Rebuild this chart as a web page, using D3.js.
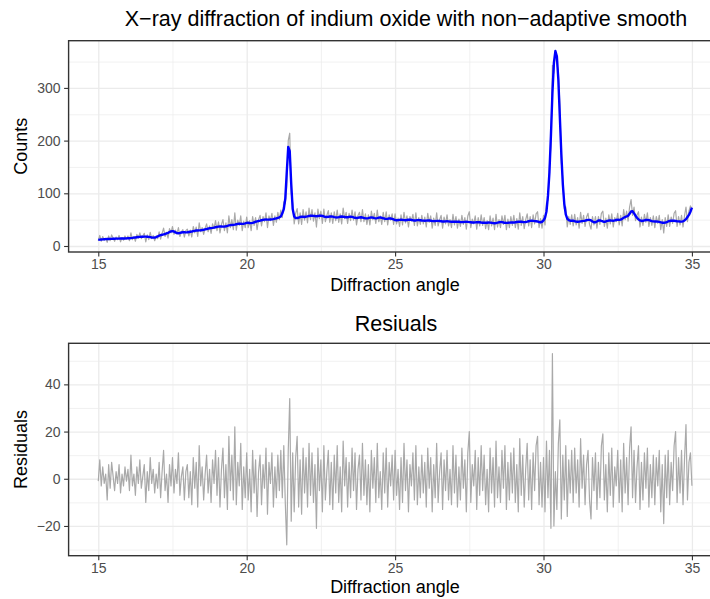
<!DOCTYPE html>
<html lang="en">
<head>
<meta charset="UTF-8" />
<title>X-ray diffraction of indium oxide</title>
<script src="https://cdnjs.cloudflare.com/ajax/libs/d3/7.8.5/d3.min.js"></script>
<style>
  body { margin: 0; background: #fff; }
  svg { display: block; font-family: 'Liberation Sans', Arial, sans-serif; }
  .axis .tick text { fill: #4d4d4d; font-size: 14px; }
  .axis .tick line { stroke: #333; stroke-width: 1.1; }
  .axis path, .grid path { display: none; }
  .grid-major line { stroke: #ebebeb; stroke-width: 1.3; }
  .grid-minor line { stroke: #ebebeb; stroke-width: 0.7; }
  text.title { font-size: 21.5px; fill: #000; }
  text.label { font-size: 18px; fill: #000; }
</style>
</head>
<body>
<svg width="710" height="599"></svg>
<script>
// scan runs 15..35 degrees, one reading every 0.05 degree
const angleStart = 15, angleStep = 0.05;

const counts = [
  10, 20, 9, 18, 11, 15, 7, 19, 10, 21, 15, 9, 17, 12, 20, 8, 16, 11, 19, 13,
  19, 10, 25, 12, 18, 9, 22, 15, 25, 14, 19, 24, 8, 21, 12, 26, 14, 20, 10, 19,
  14, 27, 13, 24, 34, 18, 26, 15, 33, 25, 37, 22, 30, 23, 35, 18, 27, 31, 17, 29,
  32, 19, 30, 17, 37, 25, 36, 18, 44, 27, 35, 22, 34, 42, 27, 38, 24, 42, 33, 48,
  29, 46, 25, 41, 50, 29, 44, 25, 57, 35, 50, 31, 63, 30, 49, 39, 57, 29, 47, 35,
  55, 35, 48, 29, 56, 39, 54, 31, 50, 58, 38, 56, 46, 63, 35, 57, 48, 62, 39, 57,
  45, 64, 50, 68, 54, 84, 80, 112, 200, 214, 100, 81, 42, 62, 71, 42, 63, 41, 69, 49,
  65, 44, 72, 50, 69, 47, 63, 36, 70, 52, 66, 43, 70, 46, 58, 67, 45, 63, 43, 65,
  48, 68, 45, 61, 42, 72, 52, 64, 43, 62, 48, 68, 49, 65, 40, 58, 64, 46, 69, 46,
  61, 41, 59, 40, 66, 50, 62, 43, 68, 46, 57, 41, 64, 46, 65, 40, 59, 49, 61, 41,
  61, 42, 53, 37, 59, 40, 64, 44, 57, 36, 56, 47, 60, 39, 63, 38, 54, 41, 58, 42,
  55, 36, 62, 45, 57, 34, 53, 39, 63, 38, 50, 58, 34, 55, 42, 59, 38, 50, 35, 60,
  40, 56, 34, 51, 37, 58, 41, 54, 32, 57, 65, 35, 51, 42, 57, 32, 54, 38, 59, 39,
  54, 33, 48, 31, 57, 38, 53, 31, 60, 36, 50, 35, 57, 41, 58, 31, 51, 35, 56, 39,
  58, 35, 52, 32, 63, 39, 56, 33, 50, 61, 38, 56, 35, 59, 42, 61, 65, 35, 52, 34,
  58, 40, 82, 87, 152, 189, 343, 328, 371, 347, 330, 270, 158, 128, 71, 74, 36, 56, 41, 59,
  38, 60, 40, 54, 34, 64, 43, 58, 37, 55, 62, 41, 32, 56, 40, 56, 34, 56, 41, 62,
  66, 37, 53, 34, 59, 42, 61, 36, 54, 46, 62, 40, 58, 38, 69, 50, 66, 47, 74, 88,
  58, 74, 48, 59, 65, 36, 55, 39, 60, 45, 63, 37, 54, 39, 57, 35, 56, 43, 58, 31,
  50, 25, 54, 37, 59, 37, 55, 43, 62, 67, 37, 56, 40, 58, 36, 57, 74, 46, 66, 76,
  70
];

const fitted = [
  11.5, 12, 12.3, 12.6, 12.8, 13, 13.2, 13.3, 13.5, 13.6, 13.7, 13.8, 13.9, 14, 14, 14.1, 14.2, 14.2, 14.3, 14.4,
  14.6, 14.8, 15, 15.4, 15.8, 16.2, 16.6, 17, 17.3, 17.5, 17.6, 17.7, 17.8, 17.6, 17.3, 16.8, 16.2, 15.8, 16, 17,
  18.2, 19.5, 20.5, 21.3, 22, 22.8, 23.8, 25, 26.5, 27.8, 28.3, 27.5, 25.8, 24.5, 24.2, 24.8, 25.6, 26, 26, 25.8,
  26, 26.5, 27, 27.5, 28.2, 28.8, 29.3, 29.5, 29.6, 29.8, 30.2, 30.8, 31.5, 32.2, 33, 33.6, 34, 34.3, 34.8, 35.5,
  36.2, 36.8, 37, 37, 36.8, 37, 37.5, 38.2, 39, 39.5, 39.8, 40, 40.5, 41.3, 42, 42.3, 42.2, 42, 42.3, 43,
  43.8, 44, 43.6, 43.4, 44, 45, 46, 46.8, 47.4, 48, 48.8, 49.5, 50, 50.2, 50, 50, 50.3, 50.6, 51, 51.8,
  52.5, 53.5, 54.5, 56, 62, 70, 90, 140, 188, 180, 118, 70, 56, 53, 53, 54, 55, 55.5, 55.5, 55,
  55.7, 56.2, 57, 57.5, 57.6, 57.2, 56.8, 56.5, 56.8, 57.3, 57.6, 57, 56, 55.2, 55, 55.4, 56, 56.2, 55.6, 54.8,
  54.4, 54.2, 54.8, 55.5, 56, 55.6, 55, 54.5, 54.6, 55.2, 55.7, 55.2, 54.3, 53.5, 53.2, 53.6, 54.2, 54.5, 54, 53.2,
  52.5, 52.4, 53, 53.8, 54.2, 53.8, 53, 52.5, 53, 53.8, 54, 53.5, 52.6, 51.8, 51.5, 51.8, 52.3, 52.2, 51.4, 50.3,
  49.3, 48.8, 49, 49.6, 50, 49.6, 49, 48.8, 49.3, 49.9, 50, 49.5, 48.8, 48.4, 48.5, 49, 49.2, 48.8, 48.3, 48.1,
  48, 48.2, 48.6, 48.5, 48, 47.5, 47.2, 47.3, 47.6, 47.7, 47.4, 47, 46.6, 46.5, 46.7, 46.9, 46.7, 46.3, 46, 46,
  46, 46.1, 46.2, 45.9, 45.5, 45.3, 45.4, 45.8, 46, 45.8, 45.4, 45, 44.6, 44.5, 44.8, 45.2, 45.3, 45, 44.5, 44.2,
  44, 44, 44.2, 44.5, 44.4, 44, 43.5, 43.2, 43.5, 44.2, 45, 45.4, 45.2, 44.6, 44, 43.8, 44, 44.4, 44.6, 44.5,
  44.6, 45, 45.6, 46, 46.3, 46.1, 45.6, 45.3, 45.5, 46.2, 47, 47.6, 47.8, 47.6, 47.2, 47, 46.5, 45.5, 45, 46,
  48.6, 53.5, 65.5, 95, 140, 210, 290, 348, 370, 360, 315, 245, 175, 118, 80, 60, 52, 49, 48, 48,
  48, 47, 46.3, 46, 46.2, 46.8, 47.3, 47.6, 48, 48.8, 49.5, 49.6, 48.5, 46.5, 45, 45, 46.5, 48.5, 48.6, 47.5,
  46.5, 46, 46.5, 47.5, 48.3, 48.5, 48.2, 48, 48.5, 49.3, 49.7, 49.5, 50, 51.5, 53.5, 55, 56, 57.5, 61, 65.5,
  66, 62, 57.5, 53.5, 50.5, 48.5, 47.5, 47.8, 48.6, 49.3, 49.6, 49.2, 48.3, 47.3, 46.7, 46.4, 46.5, 46.3, 45.8, 45,
  44.2, 44, 44.4, 45.3, 46.5, 47.5, 48, 48.1, 47.8, 47.4, 47, 46.7, 46.4, 46.2, 46.8, 48.5, 51, 55, 59, 65,
  72.7
];

const residuals = [
  -1, 8, -3, 5, -2, 2, -9, 6, -4, 7, 1, -5, 3, -2, 6, -6, 2, -3, 5, -1,
  4, -5, 10, -3, 2, -7, 5, -2, 8, -4, 1, 6, -10, 3, -5, 9, -2, 4, -6, 2,
  -4, 7, -8, 3, 12, -5, 2, -10, 6, -3, 9, -6, 4, -2, 11, -7, 1, 5, -9, 3,
  6, -8, 3, -11, 9, -4, 7, -12, 14, -3, 5, -9, 2, 10, -6, 4, -10, 8, -2, 12,
  -7, 9, -12, 4, 13, -8, 6, -13, 18, -5, 10, -9, 22, -11, 7, -3, 15, -13, 5, -8,
  11, -9, 4, -14, 12, -6, 8, -16, 3, 10, -11, 6, -4, 13, -15, 7, -2, 11, -12, 5,
  -8, 10, -5, 12, -8, 14, -10, -28, 12, 34, -18, 11, -14, 9, 18, -12, 8, -15, 13, -6,
  9, -12, 15, -7, 11, -10, 6, -21, 13, -5, 8, -14, 14, -9, 3, 12, -11, 7, -13, 10,
  -6, 14, -10, 5, -14, 16, -3, 9, -12, 7, -8, 13, -5, 11, -13, 4, 10, -9, 15, -7,
  8, -11, 6, -14, 12, -4, 9, -10, 15, -8, 3, -13, 11, -6, 13, -12, 7, -3, 10, -9,
  12, -7, 4, -13, 9, -10, 15, -5, 8, -14, 6, -3, 11, -9, 14, -11, 5, -8, 10, -6,
  7, -12, 13, -4, 9, -14, 6, -8, 15, -10, 3, 11, -13, 8, -5, 12, -9, 4, -11, 14,
  -6, 10, -12, 5, -9, 13, -4, 8, -14, 11, 20, -10, 6, -3, 12, -13, 9, -7, 14, -5,
  10, -11, 4, -14, 13, -6, 9, -12, 16, -8, 5, -10, 12, -4, 14, -13, 7, -9, 11, -6,
  13, -10, 6, -14, 17, -7, 10, -12, 4, 15, -9, 8, -13, 11, -5, 14, 18, -11, 7, -12,
  9, -14, 16, -8, 12, -21, 53, -20, 3, -13, 15, 25, -17, 10, -9, 14, -16, 8, -6, 12,
  -10, 13, -6, 8, -12, 17, -4, 10, -11, 6, 12, -9, -17, 9, -5, 11, -13, 7, -8, 14,
  19, -9, 6, -14, 11, -7, 13, -12, 5, -3, 12, -10, 8, -14, 15, -6, 9, -11, 13, 22,
  -8, 12, -10, 5, 14, -13, 7, -9, 11, -4, 13, -12, 6, -8, 10, -11, 9, -3, 12, -14,
  6, -19, 10, -8, 12, -11, 7, -5, 14, 20, -10, 9, -6, 12, -11, 8, 23, -9, 7, 11,
  -3
];

const xTicks = [15, 20, 25, 30, 35];
const xMinor = [17.5, 22.5, 27.5, 32.5];
const countTicks = [0, 100, 200, 300];
const countMinor = [50, 150, 250, 350];
const residTicks = [-20, 0, 20, 40];
const residMinor = [-30, -10, 10, 30, 50];

const angles = counts.map((_, i) => +(angleStart + i * angleStep).toFixed(2));

const svg = d3.select('svg');

const left = 68.6, right = 721.6; // panel runs past the right edge of the picture
const x = d3.scaleLinear().domain([14, 36]).range([left, right]);

const minusFmt = (d) => (d < 0 ? '\u2212' + Math.abs(d) : String(d));

function drawPanel(opt) {
  const g = svg.append('g');
  const w = right - left;
  const h = opt.bottom - opt.top;
  const y = d3.scaleLinear().domain(opt.yDomain).range([opt.bottom, opt.top]);

  // grid, minor first then major
  g.append('g')
    .attr('class', 'grid grid-minor')
    .attr('transform', `translate(0, ${opt.bottom})`)
    .call(d3.axisBottom(x).tickValues(xMinor).tickSize(-h).tickFormat(''));
  g.append('g')
    .attr('class', 'grid grid-minor')
    .attr('transform', `translate(${left}, 0)`)
    .call(d3.axisLeft(y).tickValues(opt.yMinor).tickSize(-w).tickFormat(''));
  g.append('g')
    .attr('class', 'grid grid-major')
    .attr('transform', `translate(0, ${opt.bottom})`)
    .call(d3.axisBottom(x).tickValues(xTicks).tickSize(-h).tickFormat(''));
  g.append('g')
    .attr('class', 'grid grid-major')
    .attr('transform', `translate(${left}, 0)`)
    .call(d3.axisLeft(y).tickValues(opt.yTicks).tickSize(-w).tickFormat(''));

  const clipId = 'clip-' + opt.name;
  g.append('clipPath').attr('id', clipId)
    .append('rect')
    .attr('x', left).attr('y', opt.top)
    .attr('width', w).attr('height', h);

  opt.series.forEach((s) => {
    g.append('path')
      .datum(s.values)
      .attr('clip-path', `url(#${clipId})`)
      .attr('fill', 'none')
      .attr('stroke', s.color)
      .attr('stroke-width', s.width)
      .attr('stroke-linejoin', 'round')
      .attr('d', d3.line()
        .x((d, i) => x(angles[i]))
        .y((d) => y(d)));
  });

  // panel border
  g.append('rect')
    .attr('x', left).attr('y', opt.top)
    .attr('width', w).attr('height', h)
    .attr('fill', 'none')
    .attr('stroke', '#333')
    .attr('stroke-width', 1.4);

  g.append('g')
    .attr('class', 'axis')
    .attr('transform', `translate(0, ${opt.bottom})`)
    .call(d3.axisBottom(x).tickValues(xTicks).tickSize(4.5).tickPadding(3).tickFormat(minusFmt));
  g.append('g')
    .attr('class', 'axis')
    .attr('transform', `translate(${left}, 0)`)
    .call(d3.axisLeft(y).tickValues(opt.yTicks).tickSize(4.5).tickPadding(3.5).tickFormat(minusFmt));

  // titles
  g.append('text')
    .attr('class', 'title')
    .attr('x', opt.titleX)
    .attr('y', opt.titleY)
    .attr('text-anchor', 'middle')
    .text(opt.title);

  g.append('text')
    .attr('class', 'label')
    .attr('x', 395)
    .attr('y', opt.xLabelY)
    .attr('text-anchor', 'middle')
    .text('Diffraction angle');

  g.append('text')
    .attr('class', 'label')
    .attr('transform', `translate(27, ${(opt.top + opt.bottom) / 2}) rotate(-90)`)
    .attr('text-anchor', 'middle')
    .text(opt.yLabel);
}

drawPanel({
  name: 'counts',
  top: 40.7, bottom: 252,
  yDomain: [-11.4, 389.6],
  yTicks: countTicks, yMinor: countMinor,
  series: [
    { values: counts, color: '#a9a9a9', width: 1.2 },
    { values: fitted, color: '#0000ff', width: 2.4 }
  ],
  title: 'X\u2212ray diffraction of indium oxide with non\u2212adaptive smooth',
  titleX: 406, titleY: 26,
  xLabelY: 291,
  yLabel: 'Counts'
});

drawPanel({
  name: 'resid',
  top: 343.3, bottom: 555.7,
  yDomain: [-32.6, 57.4],
  yTicks: residTicks, yMinor: residMinor,
  series: [
    { values: residuals, color: '#a9a9a9', width: 1.2 }
  ],
  title: 'Resiuals',
  titleX: 396, titleY: 331,
  xLabelY: 593,
  yLabel: 'Residuals'
});
</script>
</body>
</html>
